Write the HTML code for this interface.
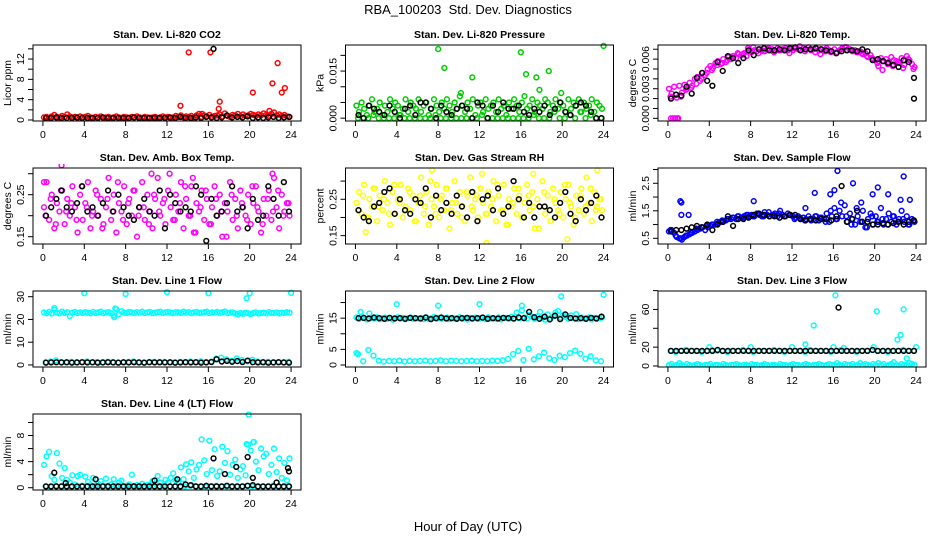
<!DOCTYPE html>
<html><head><meta charset="utf-8"><style>
body{margin:0;background:#fff}
svg{display:block;font-family:"Liberation Sans",Arial,sans-serif}
</style></head><body>
<svg id="chart" width="936" height="540" viewBox="0 0 936 540" xmlns="http://www.w3.org/2000/svg">
<text x="468" y="14" text-anchor="middle" font-size="13">RBA_100203&#160; Std. Dev. Diagnostics</text>
<text x="468" y="531" text-anchor="middle" font-size="13">Hour of Day (UTC)</text>
</svg>
<script>
// ---- data ----
const xTicks=[0,4,8,12,16,20,24];
const co2Red=[0.5,0.6,0.4,0.7,1.0,0.6,0.5,0.8,0.6,1.1,0.7,0.5,0.6,0.4,0.7,0.5,0.6,0.8,0.5,0.4,0.6,0.5,0.7,0.4,0.5,0.6,0.4,0.5,0.7,0.5,0.4,0.6,0.5,0.4,0.6,0.5,0.7,0.5,0.4,0.6,0.5,0.4,0.5,0.6,0.4,0.5,0.7,0.5,0.6,0.4,0.5,0.8,0.6,0.9,0.5,0.7,0.6,0.8,0.5,0.9,1.2,0.6,0.9,0.7,1.0,0.6,0.8,0.9,1.1,0.7,1.3,0.8,0.6,1.0,0.9,1.2,0.7,1.1,0.8,0.9,1.2,1.0,0.8,1.1,0.9,1.3,1.0,0.8,1.2,1.5,0.9,1.1,0.8,1.0,0.7,0.6];
const co2Black=[0.4,0.4,0.5,0.4,0.4,0.4,0.5,0.4,0.4,0.4,0.4,0.5,0.4,0.4,0.4,0.4,0.4,0.5,0.4,0.4,0.4,0.4,0.4,0.4,0.5,0.4,0.6,0.4,0.4,0.5,0.4,0.6,0.5,0.4,0.5,0.9,0.5,0.6,0.5,0.7,0.4,0.5,0.4,0.5,0.6,0.4,0.5,0.6];
const co2Extra=[[14.1,13.3],[13.3,2.8],[16.2,13.3],[17.1,3.6],[17.0,2.2],[20.3,5.4],[22.2,7.2],[22.7,11.2],[23.1,5.4],[23.4,6.3],[21.9,1.8],[15.4,1.2]];
const co2BlackExtra=[[16.5,14.0]];

const presGreen=[4,2,5,3,1,4,6,2,3,5,1,4,2,6,3,5,4,1,3,6,2,5,4,3,6,2,4,5,1,3,6,4,2,5,3,6,4,2,5,3,7,4,2,5,3,6,1,4,5,2,6,3,4,5,2,6,3,4,1,5,3,6,4,2,5,7,3,4,6,2,5,4,3,6,5,2,4,6,3,5,4,2,6,3,5,4,6,2,5,3,4,6,2,5,4,3];
const presGreenLow=[0,0,0,1,0,0,0,0,1,0,0,0,0,0,0,1,0,0,0,0,0,0,0,0,1,0,0,0,0,0,0,0,0,0,1,0,0,0,2,0,0,1,0,2,0,1,0,0];
const presBlack=[1,0,4,3,2,1,4,2,0,3,4,1,5,5,3,0,4,2,1,3,4,3,0,5,4,0,4,2,5,3,3,4,2,1,3,2,4,1,3,5,2,1,4,5,4,2,0,0];
const presExtra=[[8,22],[8.6,16],[11.3,13],[16,21],[16.5,14],[17.5,13],[10.2,8],[17.8,9],[18.7,15],[19.9,8],[24,23]];

const tempMag=[3.0,2.5,3.2,2.1,3.3,2.6,3.4,3.0,3.6,3.3,4.0,4.2,3.8,4.6,4.4,5.0,5.3,5.1,5.6,5.8,5.5,6.0,5.7,6.2,6.0,6.3,6.1,6.5,6.4,6.6,6.3,6.8,6.7,6.9,6.8,7.0,6.9,6.8,7.0,6.9,7.0,6.8,7.1,6.9,7.0,7.1,6.9,7.0,6.9,7.1,7.0,6.9,7.1,7.0,7.2,6.9,7.0,7.1,6.9,7.0,6.8,7.1,6.9,6.8,7.0,6.7,6.9,7.1,7.2,6.9,7.0,6.8,6.9,6.7,6.8,6.5,6.6,6.2,6.4,6.0,5.9,5.3,6.1,5.8,6.0,5.7,6.2,5.9,5.8,5.6,6.1,5.4,6.3,5.9,5.5,5.2];
const tempMag2=[2.2,2.4,2.2,2.9,3.1,3.5,4.0,4.6,4.9,5.4,5.6,5.9,6.3,6.6,6.5,7.1,7.2,6.6,6.8,7.1,6.7,6.9,6.9,6.6,7.1,7.3,6.8,7.0,6.7,6.5,6.8,6.7,6.6,7.0,7.2,6.9,6.7,6.6,6.3,6.1,5.6,4.9,5.5,5.3,5.7,5.1,6.0,5.0];
const tempBlack=[2.0,2.4,2.3,3.2,2.5,4.1,4.6,3.8,3.3,5.7,4.8,6.3,6.1,5.6,6.1,6.9,6.4,7.0,7.1,6.9,6.9,7.0,6.9,7.1,7.2,6.9,7.0,7.0,7.1,7.0,6.9,6.8,6.6,6.8,6.9,6.9,6.8,7.0,6.8,5.9,6.0,5.8,5.6,5.4,5.2,5.9,5.7,4.1];
const tempExtra=[[0.3,0],[0.5,0],[0.7,0],[0.9,0],[1.0,0]];
const tempBlackExtra=[[23.8,2.0]];

const ambMag=[0.22,0.28,0.19,0.25,0.17,0.23,0.21,0.26,0.18,0.24,0.20,0.27,0.22,0.16,0.25,0.19,0.23,0.28,0.17,0.21,0.26,0.20,0.24,0.18,0.22,0.29,0.19,0.25,0.16,0.23,0.21,0.27,0.18,0.24,0.20,0.26,0.15,0.22,0.28,0.19,0.25,0.21,0.17,0.24,0.29,0.20,0.23,0.18,0.26,0.22,0.19,0.25,0.21,0.28,0.17,0.24,0.20,0.27,0.16,0.23,0.21,0.26,0.19,0.24,0.18,0.22,0.27,0.20,0.25,0.15,0.23,0.21,0.28,0.19,0.24,0.17,0.26,0.22,0.20,0.25,0.18,0.23,0.27,0.21,0.16,0.24,0.20,0.26,0.19,0.29,0.22,0.17,0.25,0.21,0.23,0.20];
const ambMag2=[0.20,0.24,0.18,0.26,0.21,0.23,0.19,0.27,0.22,0.20,0.25,0.17,0.24,0.21,0.28,0.19,0.23,0.26,0.20,0.22,0.18,0.25,0.21,0.24,0.30,0.19,0.23,0.27,0.20,0.16,0.22,0.26,0.18,0.24,0.21,0.15,0.25,0.20,0.23,0.19,0.27,0.22,0.18,0.24,0.21,0.26,0.20,0.23];
const ambBlack=[0.20,0.22,0.24,0.26,0.22,0.21,0.23,0.27,0.21,0.22,0.20,0.23,0.26,0.21,0.25,0.22,0.20,0.19,0.22,0.24,0.21,0.20,0.26,0.17,0.25,0.23,0.21,0.22,0.21,0.27,0.25,0.14,0.24,0.20,0.21,0.23,0.27,0.21,0.22,0.17,0.24,0.19,0.20,0.27,0.24,0.20,0.28,0.21];
const ambExtra=[[0.1,0.28],[1.8,0.32],[10.5,0.30],[14.5,0.29],[22.2,0.30]];

const rhYel=[0.24,0.27,0.21,0.29,0.20,0.25,0.23,0.28,0.19,0.26,0.22,0.30,0.24,0.18,0.27,0.21,0.25,0.29,0.20,0.23,0.28,0.22,0.26,0.19,0.24,0.31,0.21,0.27,0.18,0.25,0.23,0.29,0.20,0.26,0.22,0.28,0.17,0.24,0.30,0.21,0.27,0.23,0.19,0.26,0.31,0.22,0.25,0.20,0.28,0.24,0.21,0.27,0.23,0.30,0.19,0.26,0.22,0.29,0.18,0.25,0.23,0.28,0.21,0.26,0.20,0.24,0.29,0.22,0.27,0.17,0.25,0.23,0.30,0.21,0.26,0.19,0.28,0.24,0.22,0.27,0.20,0.25,0.29,0.23,0.18,0.26,0.22,0.28,0.21,0.31,0.24,0.19,0.27,0.23,0.25,0.22];
const rhYel2=[0.22,0.26,0.20,0.28,0.23,0.25,0.21,0.29,0.24,0.22,0.27,0.19,0.26,0.23,0.30,0.21,0.25,0.28,0.22,0.24,0.20,0.27,0.23,0.26,0.32,0.21,0.25,0.29,0.22,0.18,0.24,0.28,0.20,0.26,0.23,0.17,0.27,0.22,0.25,0.21,0.29,0.24,0.20,0.26,0.23,0.28,0.22,0.25];
const rhBlack=[0.22,0.20,0.19,0.23,0.24,0.27,0.28,0.21,0.25,0.22,0.21,0.25,0.24,0.28,0.20,0.26,0.22,0.24,0.21,0.26,0.23,0.20,0.27,0.19,0.25,0.26,0.22,0.28,0.21,0.23,0.30,0.25,0.20,0.24,0.20,0.23,0.23,0.22,0.20,0.24,0.27,0.21,0.19,0.25,0.22,0.24,0.26,0.20];
const rhExtra=[[7.4,0.33],[12.7,0.13],[17.2,0.32],[23.4,0.33],[1.0,0.16],[20.5,0.14]];

const flowBlue=[0.75,0.8,0.7,0.55,0.5,0.45,0.55,0.6,0.65,0.7,0.75,0.8,0.85,0.9,0.8,0.9,0.95,1.0,1.0,1.05,1.1,1.1,1.15,1.2,1.2,1.25,1.2,1.3,1.25,1.3,1.35,1.3,1.35,1.3,1.4,1.35,1.3,1.45,1.35,1.3,1.35,1.4,1.3,1.5,1.35,1.3,1.4,1.35,1.3,1.25,1.3,1.2,1.25,1.2,1.3,1.15,1.2,1.3,1.15,1.25,1.2,1.4,1.1,1.3,1.6,1.2,1.5,1.3,1.7,1.1,1.4,1.2,1.0,1.3,1.1,1.5,0.9,1.2,1.4,1.0,1.3,1.1,1.6,1.0,1.2,1.4,1.1,1.3,1.0,1.2,1.5,1.1,1.3,1.0,1.2,1.1];
const flowBlue2=[0.8,0.6,0.5,0.6,0.7,0.85,0.9,0.95,1.0,1.1,1.15,1.2,1.25,1.3,1.25,1.35,1.3,1.4,1.3,1.45,1.35,1.4,1.3,1.35,1.2,1.25,1.15,1.2,1.3,1.25,1.1,1.5,1.2,1.8,1.3,1.0,1.6,1.1,0.9,1.3,1.1,1.2,1.0,1.3,1.1,1.2,1.0,1.15];
const flowBlack=[0.75,0.8,0.8,0.85,0.9,0.95,0.9,1.0,0.8,1.0,1.1,1.3,0.95,1.2,1.2,1.25,1.35,1.4,1.35,1.3,1.3,1.25,1.3,1.35,1.35,1.2,1.15,1.2,1.15,1.2,1.2,1.15,1.3,2.4,1.1,1.2,1.5,1.1,1.1,1.0,1.0,1.05,1.0,1.05,1.1,1.0,1.1,1.15];
const flowExtra=[[1.2,1.85],[1.3,1.8],[1.3,1.35],[2.0,1.35],[16.4,2.95],[22.8,2.75],[17.9,2.5],[14.2,2.15],[15.7,2.1],[16.1,2.25],[20.3,2.35],[21.3,2.1],[19.8,2.1],[22.5,1.9],[23.4,1.9],[8.3,1.85],[13.3,1.6],[18.7,1.8]];

const l1High=[23.1,22.8,23.3,22.6,24.2,23.0,22.7,23.4,22.9,23.2,21.5,23.0,23.3,22.8,23.1,22.9,23.2,23.0,22.7,23.3,22.9,23.1,23.4,22.8,23.0,23.2,22.7,21.8,24.5,22.4,23.6,23.0,22.9,23.3,23.1,22.8,23.2,23.0,23.4,22.9,23.1,23.3,22.8,23.0,23.2,23.4,22.9,23.1,23.3,23.0,22.8,23.2,23.1,22.9,23.4,23.0,23.2,22.8,23.1,23.3,22.9,23.0,23.2,23.4,22.8,23.1,23.0,23.3,22.9,23.2,23.5,22.8,23.0,23.1,22.6,22.3,22.9,22.5,23.0,22.7,22.4,22.9,23.1,22.6,22.8,23.0,22.7,23.2,22.9,22.8,23.1,22.7,23.0,22.9,23.2,23.0];
const l1Low=[1.2,1.5,2.0,1.3,1.1,1.4,1.2,1.3,1.5,1.1,1.3,1.2,1.4,1.3,1.1,1.2,1.3,1.5,1.2,1.1,1.3,1.4,1.2,1.3,1.1,1.2,1.4,1.3,1.5,1.2,1.6,1.3,1.4,2.8,3.2,2.5,1.8,2.9,2.1,1.6,2.3,1.5,1.3,1.4,1.2,1.3,1.1,1.4];
const l1Black=[1.0,1.1,1.2,1.1,1.2,1.0,1.1,1.2,1.1,1.2,1.0,1.1,1.2,1.1,1.0,1.2,1.1,1.2,1.1,1.0,1.2,1.1,1.2,1.1,1.2,1.0,1.1,1.2,1.1,1.2,1.0,1.1,1.3,2.5,1.5,1.8,1.4,1.7,1.3,1.9,1.2,1.1,1.2,1.0,1.1,1.2,1.1,1.0];
const l1Extra=[[4,31.5],[8,31.2],[12,32],[16,31.5],[19.7,29.3],[20,31.5],[24,31.7],[1.1,25],[6.9,21],[7.0,24.8]];

const l2High=[15.2,14.8,15.5,15.0,14.6,16.5,15.1,14.9,15.3,14.7,15.0,15.2,14.8,15.1,14.5,15.0,15.3,14.9,15.1,14.7,15.0,15.2,14.8,15.0,14.9,15.1,14.7,15.3,14.8,15.0,15.4,14.9,15.1,14.8,15.0,15.2,14.7,15.1,14.9,15.0,15.3,14.8,15.0,14.6,15.1,14.9,15.2,14.8,15.0,15.1,14.7,15.3,14.9,15.0,14.8,15.2,14.6,15.0,15.1,14.9,15.5,14.8,16.8,15.0,17.5,15.2,14.9,16.0,15.4,14.8,15.6,17.0,15.1,14.5,16.2,15.0,15.5,16.8,17.3,15.2,16.0,15.4,14.8,15.9,15.1,16.3,14.7,15.2,14.9,15.0,15.3,14.6,15.1,14.8,15.0,15.2];
const l2Low=[3.5,1.2,4.8,3.0,1.4,1.1,1.3,1.2,1.4,1.1,1.3,1.2,1.3,1.4,1.2,1.3,1.5,1.2,1.4,1.3,1.2,1.3,1.4,1.2,1.3,1.2,1.4,1.3,1.5,1.9,3.5,4.5,1.6,5.2,1.8,2.8,4.0,2.2,1.6,3.0,2.5,3.8,4.6,3.6,2.0,2.8,1.5,1.2];
const l2Black=[15.0,15.1,14.9,15.2,15.0,14.8,15.1,14.9,15.0,14.8,15.1,15.0,14.9,15.2,14.7,15.0,15.2,14.9,15.0,14.8,15.0,15.1,14.9,15.0,15.2,14.8,15.0,14.9,15.1,15.0,14.9,15.2,15.0,17.0,15.3,14.8,15.5,14.6,15.8,14.7,16.2,15.1,14.9,15.0,14.8,15.1,14.9,15.5];
const l2Extra=[[4,19.5],[8,19],[12,19.5],[16.1,19],[19.9,22],[24,22.5],[0.5,17],[0.1,3.8]];

const l3High=[16,15,16,17,16,16,15,16,17,16,16,15,16,16,17,16,15,16,16,16,17,16,15,16,16,16,15,17,16,16,16,15,16,17,16,16,15,16,16,17,16,16,15,16,16,17,16,16];
const l3Low=[1,2,0,1,3,1,0,2,1,0,1,2,1,0,1,1,2,0,1,1,0,2,1,0,1,1,2,1,0,1,1,0,2,1,1,0,1,2,1,0,1,1,0,2,1,1,0,1,2,1,1,0,1,2,1,0,1,1,2,1,0,1,2,1,1,3,1,0,2,1,1,2,0,1,3,1,2,1,0,2,1,3,1,2,0,1,2,4,1,0,2,1,1,3,2,1];
const l3Black=[16,16,16,16,16,16,16,16,16,17,16,16,16,16,16,16,16,16,16,16,16,16,16,16,16,16,16,16,16,16,16,16,16,16,16,16,16,16,16,17,16,16,16,16,16,16,16,16];
const l3Extra=[[16.2,75],[22.8,60],[20.2,58],[14.1,43],[13.3,23],[22.2,28],[22.5,33],[23.1,8],[24,20],[4,20],[8,20],[12,20],[16,20],[17,19],[19.9,20]];
const l3BlackExtra=[[16.5,62]];

const l4Cyan=[3.5,4.8,5.5,1.8,1.2,5.3,3.7,1.5,3.0,1.2,0.8,1.9,0.5,1.8,2.0,0.3,1.7,0.9,0.4,1.5,0.3,0.6,1.0,0.3,1.4,0.2,0.5,1.3,0.3,0.8,1.1,0.2,0.3,0.5,2.0,0.2,0.4,0.3,0.6,0.2,0.4,0.5,1.0,0.6,1.8,0.8,0.3,1.2,0.8,1.5,2.2,1.1,0.9,3.1,1.3,3.6,2.5,3.9,1.5,2.8,3.5,7.4,4.2,2.1,7.2,2.7,5.9,1.8,2.5,6.3,3.8,5.6,2.0,3.5,4.3,1.5,2.8,3.3,1.9,6.6,5.7,7.0,4.0,2.7,6.0,4.8,5.2,2.1,3.5,6.0,2.4,4.5,1.5,3.8,1.1,4.5];
const l4Base=[0.2,0.1,0.3,0.2,0.2,0.1,0.2,0.3,0.2,0.1,0.2,0.2,0.3,0.2,0.1,0.2,0.2,0.3,0.2,0.1,0.2,0.2,0.1,0.3,0.2,0.2,0.1,0.2,0.3,0.2,0.2,0.1,0.2,0.3,0.2,0.2,0.1,0.2,0.2,0.3,0.2,0.1,0.2,0.2,0.3,0.2,0.1,0.2];
const l4Black=[0.2,0.2,0.2,0.2,0.2,0.2,0.2,0.2,0.2,0.2,0.2,0.2,0.2,0.2,0.2,0.2,0.2,0.2,0.2,0.2,0.2,0.2,0.2,0.2,0.2,0.2,0.2,0.5,0.4,0.2,0.2,0.3,0.2,0.2,0.2,0.3,0.2,0.2,0.2,0.3,0.4,0.2,0.2,0.2,0.2,0.2,0.2,0.2];
const l4Extra=[[19.9,11.2],[19.7,6.7],[20.4,7.0]];
const l4BlackExtra=[[1.1,2.3],[2.2,0.7],[5.1,1.3],[10.8,1.1],[13,1.3],[16.5,4.5],[17.6,2.1],[18.7,3.2],[19.8,4.7],[20.3,1.5],[22.6,0.8],[23.7,3.0],[23.8,2.5]];

const MAG='#ff00ff',CY='#00ffff';
const panels=[
 {name:'co2',col:0,row:0,title:'Stan. Dev. Li-820 CO2',ylab:'Licor ppm',ymin:-0.2,ymax:14.76,ticks:[0,2,4,6,8,10,12,14],labels:{0:'0',4:'4',8:'8',12:'12'},
  series:[[co2Red,'red'],[co2Black,'#000']],extra:[[co2Extra,'red'],[co2BlackExtra,'#000']]},
 {name:'pressure',col:1,row:0,title:'Stan. Dev. Li-820 Pressure',ylab:'kPa',ymin:-0.9,ymax:23.3,ticks:[0,5,10,15,20],labels:{0:'0.000',15:'0.015'},
  series:[[presGreen,'#00cc00'],[presGreenLow,'#00cc00'],[presBlack,'#000']],extra:[[presExtra,'#00cc00']]},
 {name:'temp',col:2,row:0,title:'Stan. Dev. Li-820 Temp.',ylab:'degrees C',ymin:-0.27,ymax:7.43,ticks:[0,1,2,3,4,5,6,7],labels:{0:'0.000',3:'0.003',6:'0.006'},
  series:[[tempMag,MAG],[tempMag2,MAG],[tempBlack,'#000']],extra:[[tempExtra,MAG],[tempBlackExtra,'#000']]},
 {name:'amb-box-temp',col:0,row:1,title:'Stan. Dev. Amb. Box Temp.',ylab:'degrees C',ymin:0.1326,ymax:0.3136,ticks:[0.15,0.20,0.25,0.30],labels:{0.15:'0.15',0.25:'0.25'},
  series:[[ambMag,MAG],[ambMag2,MAG],[ambBlack,'#000']],extra:[[ambExtra,MAG]]},
 {name:'gas-stream-rh',col:1,row:1,title:'Stan. Dev. Gas Stream RH',ylab:'percent',ymin:0.127,ymax:0.336,ticks:[0.15,0.20,0.25,0.30],labels:{0.15:'0.15',0.25:'0.25'},
  series:[[rhYel,'#ffff00'],[rhYel2,'#ffff00'],[rhBlack,'#000']],extra:[[rhExtra,'#ffff00']]},
 {name:'sample-flow',col:2,row:1,title:'Stan. Dev. Sample Flow',ylab:'ml/min',ymin:0.293,ymax:3.056,ticks:[0.5,1,1.5,2,2.5,3],labels:{0.5:'0.5',1.5:'1.5',2.5:'2.5'},
  series:[[flowBlue,'#0000ff'],[flowBlue2,'#0000ff'],[flowBlack,'#000']],extra:[[flowExtra,'#0000ff']]},
 {name:'line1-flow',col:0,row:2,title:'Stan. Dev. Line 1 Flow',ylab:'ml/min',ymin:-0.9,ymax:32.5,ticks:[0,10,20,30],labels:{0:'0',10:'10',20:'20',30:'30'},
  series:[[l1High,CY],[l1Low,CY],[l1Black,'#000']],extra:[[l1Extra,CY]]},
 {name:'line2-flow',col:1,row:2,title:'Stan. Dev. Line 2 Flow',ylab:'ml/min',ymin:-0.64,ymax:23.7,ticks:[0,5,10,15,20],labels:{0:'0',5:'5',15:'15'},
  series:[[l2High,CY],[l2Low,CY],[l2Black,'#000']],extra:[[l2Extra,CY]]},
 {name:'line3-flow',col:2,row:2,title:'Stan. Dev. Line 3 Flow',ylab:'ml/min',ymin:-1.1,ymax:79.6,ticks:[0,20,40,60,80],labels:{0:'0',20:'20',60:'60'},
  series:[[l3Low,CY],[l3High,CY],[l3Black,'#000']],extra:[[l3Extra,CY],[l3BlackExtra,'#000']]},
 {name:'line4-flow',col:0,row:3,title:'Stan. Dev. Line 4 (LT) Flow',ylab:'ml/min',ymin:-0.35,ymax:11.3,ticks:[0,2,4,6,8,10],labels:{0:'0',4:'4',8:'8'},
  series:[[l4Base,CY],[l4Cyan,CY],[l4Black,'#000']],extra:[[l4Extra,CY],[l4BlackExtra,'#000']]}
];
// ---- drawing ----
const NS='http://www.w3.org/2000/svg';
const svg=document.getElementById('chart');
const W=268,H=76;
function mk(tag,attrs,parent){const e=document.createElementNS(NS,tag);for(const k in attrs)e.setAttribute(k,attrs[k]);parent.appendChild(e);return e;}
panels.forEach(p=>{
  const L=33+p.col*312.5,T=45+p.row*123;
  const g=mk('g',{},svg);
  
  
  const xs=h=>L+(h+0.96)/25.92*W;
  const ys=v=>T+H-(v-p.ymin)/(p.ymax-p.ymin)*H;
  const t=mk('text',{x:L+W/2,y:T-7,'text-anchor':'middle','font-size':10.5,'font-weight':'bold'},g);t.textContent=p.title;
  
  
  const yl=mk('text',{x:0,y:0,'text-anchor':'middle','font-size':10.5,transform:`translate(${L-22},${T+H/2}) rotate(-90)`},g);yl.textContent=p.ylab;
  
  
  xTicks.forEach(h=>{
    mk('line',{x1:xs(h),x2:xs(h),y1:T+H,y2:T+H+5,stroke:'#000','stroke-width':1},g);
    const tl=mk('text',{x:xs(h),y:T+H+17,'text-anchor':'middle','font-size':10.5},g);tl.textContent=h;
    
    
  });
  p.ticks.forEach(v=>{
    mk('line',{x1:L-5,x2:L,y1:ys(v),y2:ys(v),stroke:'#000','stroke-width':1},g);
    if(p.labels[v]!==undefined){
      const tl=mk('text',{x:0,y:0,'text-anchor':'middle','font-size':10.5,transform:`translate(${L-9},${ys(v)}) rotate(-90)`},g);tl.textContent=p.labels[v];
      
      
    }
  });
  const clipId='c'+p.name;
  const cp=mk('clipPath',{id:clipId},g);mk('rect',{x:L,y:T-4,width:W,height:H+4},cp);
  const pg=mk('g',{'clip-path':`url(#${clipId})`},g);
  function dot(x,y,c){
    const d=mk('circle',{cx:x,cy:y,r:2.4,fill:'none',stroke:c,'stroke-width':1.5},pg);
    
    
  }
  const order=[];
  p.series.forEach(s=>{if(s[1]!=='#000')order.push(s);});
  p.extra.forEach(e=>{if(e[1]!=='#000')e[0].forEach(pt=>dot(xs(pt[0]),ys(pt[1]),e[1]));});
  order.forEach(s=>{const n=s[0].length;s[0].forEach((v,i)=>dot(xs(i*24/n+(n<60?0.25:0.1)),ys(v),s[1]));});
  p.series.forEach(s=>{if(s[1]==='#000')s[0].forEach((v,i)=>dot(xs(0.3+i*0.5),ys(v),'#000'));});
  p.extra.forEach(e=>{if(e[1]==='#000')e[0].forEach(pt=>dot(xs(pt[0]),ys(pt[1]),'#000'));});
  const box=mk('rect',{x:L,y:T,width:W,height:H,fill:'none',stroke:'#000','stroke-width':1},g);
  
  
});
</script>
</body></html>
